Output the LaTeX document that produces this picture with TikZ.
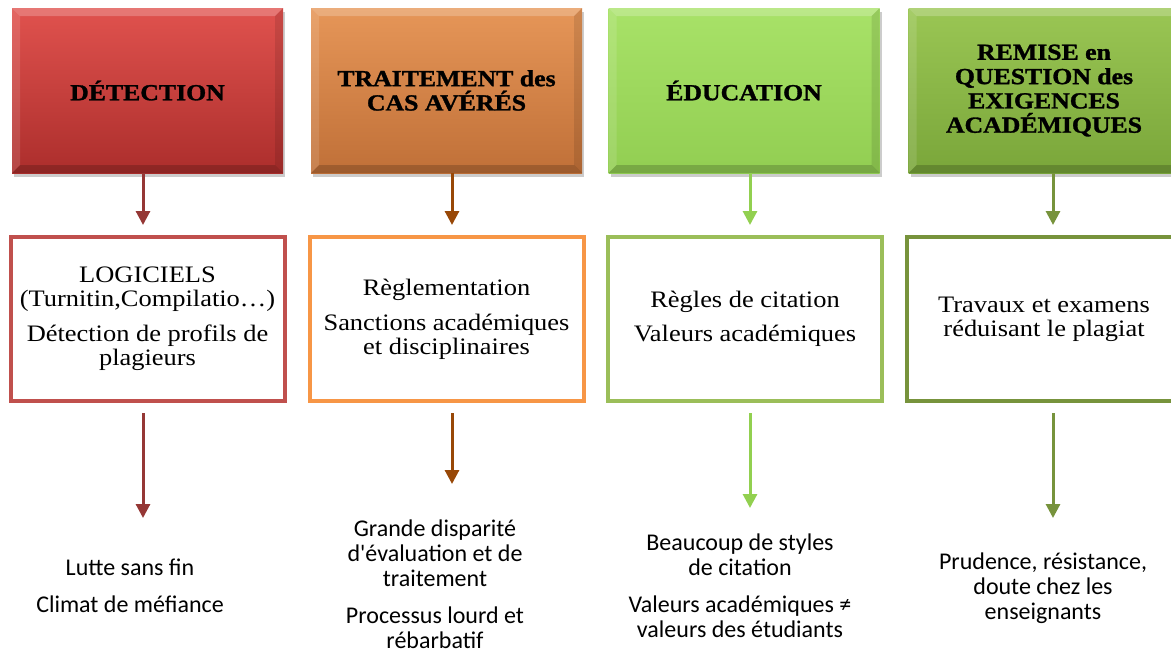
\documentclass[tikz,border=0pt]{standalone}
\usepackage{fontspec}
\setmainfont[FakeStretch=1.12, BoldFeatures={FakeBold=1.3}]{Liberation Serif}
\setsansfont{Carlito}
\usetikzlibrary{arrows.meta,shadows}

% colours of the four columns
\definecolor{detTop}{RGB}{224,82,78}
\definecolor{detBot}{RGB}{172,46,44}
\definecolor{detLine}{RGB}{192,80,77}
\definecolor{detArrow}{RGB}{149,55,53}
\definecolor{traTop}{RGB}{230,150,88}
\definecolor{traBot}{RGB}{192,112,56}
\definecolor{traLine}{RGB}{247,150,70}
\definecolor{traArrow}{RGB}{152,72,7}
\definecolor{eduTop}{RGB}{168,226,104}
\definecolor{eduBot}{RGB}{146,206,82}
\definecolor{eduLine}{RGB}{155,190,89}
\definecolor{eduArrow}{RGB}{146,208,80}
\definecolor{remTop}{RGB}{154,198,84}
\definecolor{remBot}{RGB}{122,166,58}
\definecolor{remLine}{RGB}{119,147,60}
\definecolor{remArrow}{RGB}{119,147,60}

\tikzset{
  titlebox/.style={minimum width=135.5pt, minimum height=82.5pt, inner sep=0pt,
    align=center, font=\fontsize{11.5}{12.15}\selectfont\bfseries,
    drop shadow={opacity=.4, shadow xshift=1pt, shadow yshift=-2pt},
    path picture={
      \fill[white,opacity=.22] (path picture bounding box.north west) -- (path picture bounding box.north east)
        -- ([xshift=-4pt,yshift=-4pt]path picture bounding box.north east) -- ([xshift=4pt,yshift=-4pt]path picture bounding box.north west) -- cycle;
      \fill[white,opacity=.12] (path picture bounding box.north west) -- (path picture bounding box.south west)
        -- ([xshift=4pt,yshift=4pt]path picture bounding box.south west) -- ([xshift=4pt,yshift=-4pt]path picture bounding box.north west) -- cycle;
      \fill[black,opacity=.10] (path picture bounding box.north east) -- (path picture bounding box.south east)
        -- ([xshift=-4pt,yshift=4pt]path picture bounding box.south east) -- ([xshift=-4pt,yshift=-4pt]path picture bounding box.north east) -- cycle;
      \fill[black,opacity=.18] (path picture bounding box.south west) -- (path picture bounding box.south east)
        -- ([xshift=-4pt,yshift=4pt]path picture bounding box.south east) -- ([xshift=4pt,yshift=4pt]path picture bounding box.south west) -- cycle;
    }},
  bodybox/.style={draw, line width=2pt, fill=white, minimum width=137pt, minimum height=82pt,
    inner sep=0pt, align=center, font=\fontsize{11.8}{12}\selectfont},
  note/.style={align=center, font=\sffamily\fontsize{12}{12.5}\selectfont},
  link/.style={line width=1.5pt, -{Triangle[width=7pt,length=7pt]}}
}

\begin{document}
\begin{tikzpicture}[x=0.5pt,y=-0.5pt]
  \useasboundingbox (0,0) rectangle (1171,654);
  \clip (0,0) rectangle (1171,654);

  % top row
  \node[titlebox, top color=detTop, bottom color=detBot] (t1) at (147.5,90.5) {DÉTECTION};
  \node[titlebox, top color=traTop, bottom color=traBot] (t2) at (446.5,90.5) {TRAITEMENT des\\CAS AVÉRÉS};
  \node[titlebox, top color=eduTop, bottom color=eduBot] (t3) at (744,90.5) {ÉDUCATION};
  \node[titlebox, top color=remTop, bottom color=remBot] (t4) at (1044,90.5) {REMISE en\\QUESTION des\\EXIGENCES\\ACADÉMIQUES};

  % middle row
  \node[bodybox, draw=detLine] (m1) at (147.5,319) {LOGICIELS\\(Turnitin,Compilatio…)\\[5.5pt]Détection de profils de\\plagieurs};
  \node[bodybox, draw=traLine] (m2) at (446.5,319) {Règlementation\\[5.5pt]Sanctions académiques\\et disciplinaires};
  \node[bodybox, draw=eduLine] (m3) at (745,319) {Règles de citation\\[5pt]Valeurs académiques};
  \node[bodybox, draw=remLine] (m4) at (1044,319) {Travaux et examens\\réduisant le plagiat};

  % bottom row
  \node[note] (b1) at (130,586) {Lutte sans fin\\[6pt]Climat de méfiance};
  \node[note] (b2) at (435,584) {Grande disparité\\d\textquotesingle évaluation et de\\traitement\\[6pt]Processus lourd et\\rébarbatif};
  \node[note] (b3) at (740,586) {Beaucoup de styles\\de citation\\[6pt]Valeurs académiques ≠\\valeurs des étudiants};
  \node[note] (b4) at (1043,588) {Prudence, résistance,\\doute chez les\\enseignants};

  % arrow tips above the notes
  \coordinate (e1) at (143,518);
  \coordinate (e2) at (452,484);
  \coordinate (e3) at (750,508);
  \coordinate (e4) at (1053,518);

  \draw[link, detArrow, shorten >=5pt] (t1.south -| e1) -- (m1.north -| e1);
  \draw[link, traArrow, shorten >=5pt] (t2.south -| e2) -- (m2.north -| e2);
  \draw[link, eduArrow, shorten >=5pt] (t3.south -| e3) -- (m3.north -| e3);
  \draw[link, remArrow, shorten >=5pt] (t4.south -| e4) -- (m4.north -| e4);

  \draw[link, detArrow, shorten <=5pt] (m1.south -| e1) -- (e1);
  \draw[link, traArrow, shorten <=5pt] (m2.south -| e2) -- (e2);
  \draw[link, eduArrow, shorten <=5pt] (m3.south -| e3) -- (e3);
  \draw[link, remArrow, shorten <=5pt] (m4.south -| e4) -- (e4);
\end{tikzpicture}
\end{document}
